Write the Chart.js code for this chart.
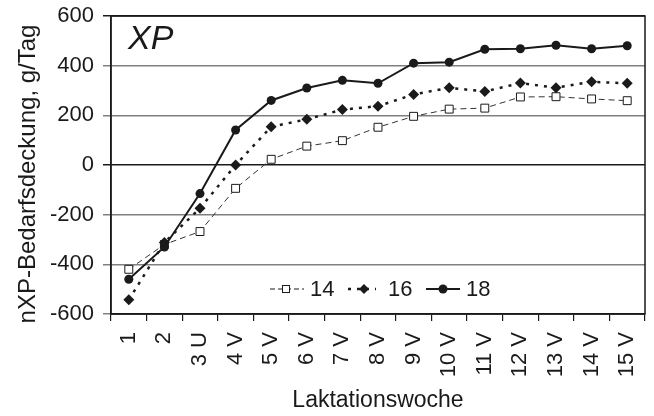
<!DOCTYPE html>
<html>
<head>
<meta charset="utf-8">
<script src="https://cdn.jsdelivr.net/npm/chart.js@4.4.1/dist/chart.umd.min.js"></script>
<style>
  html, body { margin: 0; padding: 0; background: #fff; }
  #wrap { width: 654px; height: 416px; }
</style>
</head>
<body>
<div id="wrap"><canvas id="xpChart" width="654" height="416"></canvas></div>
<script>
/**
 * nXP-Bedarfsdeckung je Laktationswoche, drei Gruppen (14 / 16 / 18)
 */
const weeks = ['1', '2', '3 U', '4 V', '5 V', '6 V', '7 V', '8 V', '9 V', '10 V', '11 V', '12 V', '13 V', '14 V', '15 V'];
const yTicks = [-600, -400, -200, 0, 200, 400, 600];

const xp14 = [-420, -320, -268, -94, 23, 76, 98, 152, 196, 225, 229, 274, 275, 266, 259];
const xp16 = [-543, -312, -174, 0, 154, 184, 223, 237, 284, 311, 296, 330, 311, 335, 329];
const xp18 = [-460, -330, -115, 141, 260, 310, 341, 329, 410, 414, 466, 468, 482, 468, 480];

const FONT = "'Liberation Sans', Arial, sans-serif";
const INK = '#1a1a1a';

// frame round the plot, y title, the "XP" tag and the legend inside the plot
const PlotExtras = {
  id: 'plotExtras',
  afterDatasetsDraw(chart) {
    const { ctx, chartArea: a } = chart;
    ctx.save();
    ctx.strokeStyle = INK;
    ctx.lineWidth = 1.5;
    ctx.strokeRect(a.left, a.top, a.right - a.left, a.bottom - a.top);

    ctx.fillStyle = INK;

    // y axis title, a bit taller than the plot
    ctx.save();
    ctx.font = '24px ' + FONT;
    ctx.textAlign = 'center';
    ctx.textBaseline = 'alphabetic';
    ctx.translate(35, 174);
    ctx.rotate(-Math.PI / 2);
    ctx.fillText('nXP-Bedarfsdeckung, g/Tag', 0, 0);
    ctx.restore();

    ctx.font = 'italic 34px ' + FONT;
    ctx.textBaseline = 'alphabetic';
    ctx.fillText('XP', a.left + 17, a.top + 33);

    // legend
    const y = 289;
    ctx.font = '22px ' + FONT;
    ctx.textBaseline = 'middle';

    // 14: dashed, open square
    ctx.lineWidth = 1;
    ctx.setLineDash([5, 3]);
    ctx.beginPath(); ctx.moveTo(270, y); ctx.lineTo(304, y); ctx.stroke();
    ctx.setLineDash([]);
    ctx.fillStyle = '#fff';
    ctx.fillRect(282, y - 4, 8, 8);
    ctx.strokeRect(282.5, y - 3.5, 7, 7);
    ctx.fillStyle = INK;
    ctx.fillText('14', 310, y + 1);

    // 16: dotted, diamond
    ctx.lineWidth = 2.5;
    ctx.setLineDash([3, 6]);
    ctx.beginPath(); ctx.moveTo(348, y); ctx.lineTo(376, y); ctx.stroke();
    ctx.setLineDash([]);
    ctx.beginPath();
    ctx.moveTo(364, y - 5); ctx.lineTo(369, y); ctx.lineTo(364, y + 5); ctx.lineTo(359, y);
    ctx.closePath(); ctx.fill();
    ctx.fillText('16', 388, y + 1);

    // 18: solid, filled circle
    ctx.lineWidth = 2;
    ctx.beginPath(); ctx.moveTo(426, y); ctx.lineTo(460, y); ctx.stroke();
    ctx.beginPath(); ctx.arc(443, y, 4.5, 0, Math.PI * 2); ctx.fill();
    ctx.fillText('18', 466, y + 1);
    ctx.restore();
  }
};

const ctx = document.getElementById('xpChart');
new Chart(ctx, {
  type: 'line',
  data: {
    labels: weeks,
    datasets: [
      {
        label: '14',
        data: xp14,
        borderColor: '#333',
        borderWidth: 1,
        borderDash: [6, 4],
        pointStyle: 'rect',
        pointRadius: 5.6,
        pointBackgroundColor: '#fff',
        pointBorderColor: INK,
        pointBorderWidth: 1,
        order: 3
      },
      {
        label: '16',
        data: xp16,
        borderColor: INK,
        borderWidth: 2.5,
        borderDash: [3, 6],
        pointStyle: 'rectRot',
        pointRadius: 5.5,
        pointBackgroundColor: INK,
        pointBorderColor: INK,
        pointBorderWidth: 0,
        order: 2
      },
      {
        label: '18',
        data: xp18,
        borderColor: INK,
        borderWidth: 2,
        pointStyle: 'circle',
        pointRadius: 4.5,
        pointBackgroundColor: INK,
        pointBorderColor: INK,
        pointBorderWidth: 0,
        order: 1
      }
    ]
  },
  plugins: [PlotExtras],
  options: {
    responsive: false,
    animation: false,
    devicePixelRatio: 1,
    layout: { padding: { left: 6, top: 16, right: 9, bottom: 2 } },
    plugins: {
      legend: { display: false },
      tooltip: { enabled: false }
    },
    scales: {
      x: {
        offset: true,
        grid: {
          offset: true,
          drawOnChartArea: false,
          drawTicks: true,
          tickLength: 7,
          color: INK,
          lineWidth: 1.2
        },
        border: { color: INK, width: 1.5 },
        ticks: {
          color: INK,
          font: { family: FONT, size: 22 },
          minRotation: 90,
          maxRotation: 90,
          autoSkip: false,
          padding: 11
        },
        title: {
          display: true,
          text: 'Laktationswoche',
          color: INK,
          font: { family: FONT, size: 23 },
          padding: { top: 4, bottom: 0 }
        },
        afterFit(scale) {
          scale.height = 416 - 314 - 2;
          scale.paddingLeft = 0;
          scale.paddingRight = 0;
        }
      },
      y: {
        min: -600,
        max: 600,
        afterBuildTicks(scale) { scale.ticks = yTicks.map(v => ({ value: v })); },
        grid: {
          color: c => (c.tick && (c.tick.value === 0 || c.tick.value === 600)) ? INK : '#808080',
          lineWidth: 1.5,
          tickLength: 8
        },
        border: { color: INK, width: 1.5 },
        ticks: {
          color: INK,
          font: { family: FONT, size: 22 },
          padding: 9
        },
        title: { display: false },
        afterFit(scale) {
          scale.width = 111 - 6;
          scale.paddingTop = 0;
          scale.paddingBottom = 0;
        }
      }
    }
  }
});
</script>
</body>
</html>
